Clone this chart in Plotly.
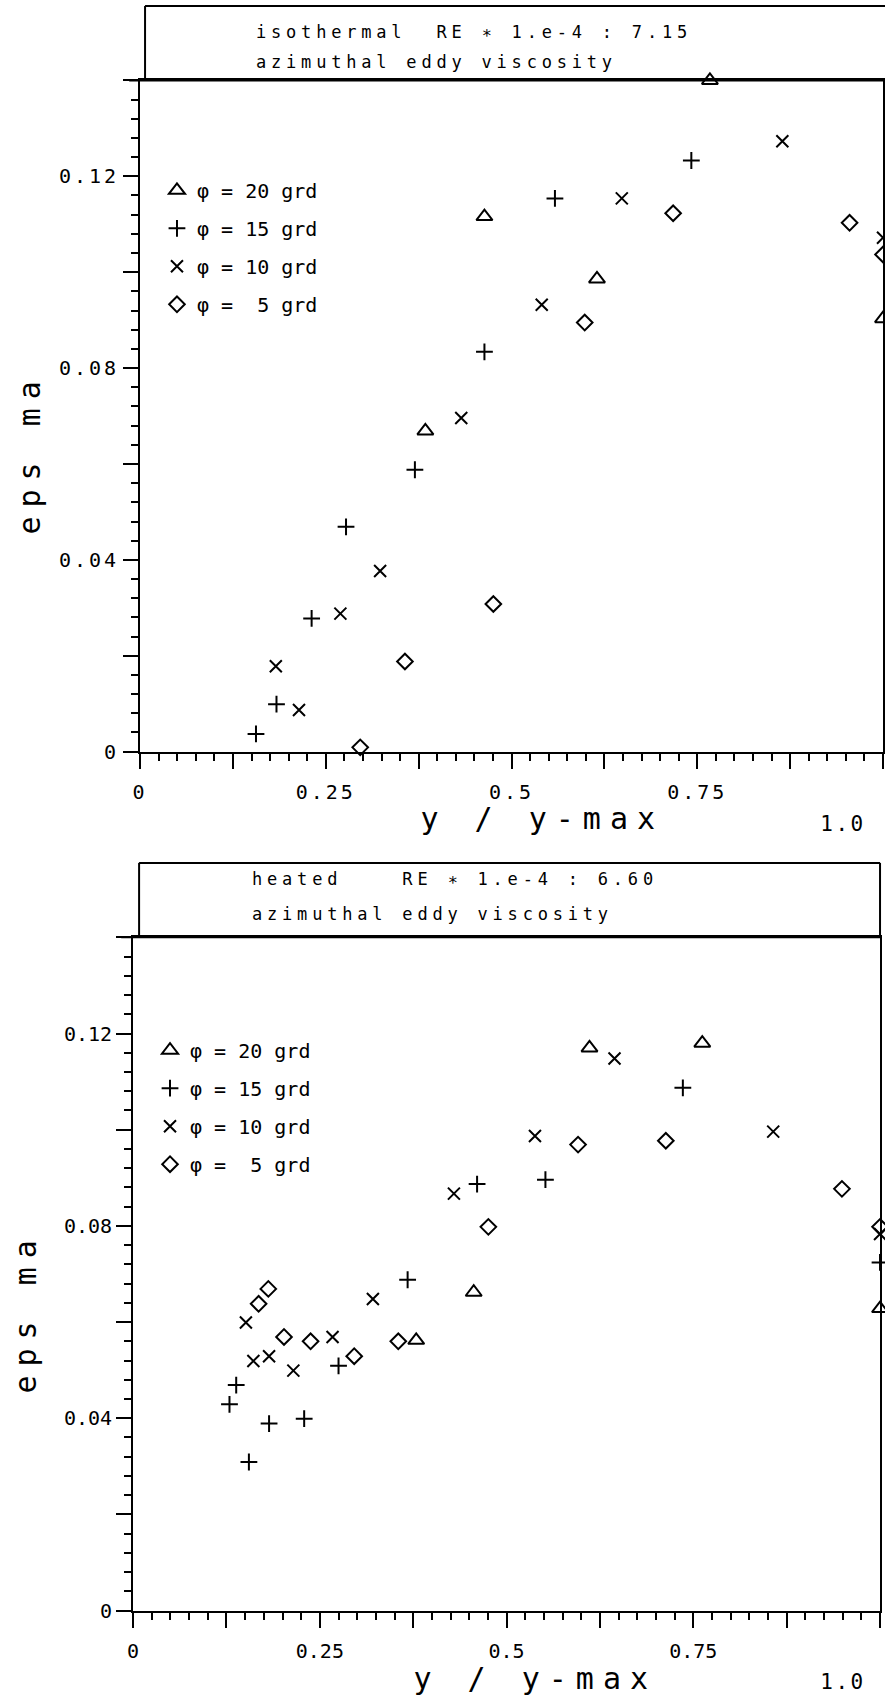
import plotly.graph_objects as go

# ---- isothermal run, RE * 1.e-4 = 7.15 -------------------------------
iso_x20 = [0.384, 0.4635, 0.615, 0.767, 1.0]
iso_y20 = [0.0669, 0.1116, 0.0986, 0.140, 0.0903]
iso_x15 = [0.156, 0.1836, 0.2309, 0.2772, 0.3699, 0.4635, 0.5584, 0.742]
iso_y15 = [0.0037, 0.0099, 0.0278, 0.0469, 0.0588, 0.0834, 0.1154, 0.1233]
iso_x10 = [0.1827, 0.2139, 0.2696, 0.3231, 0.4323, 0.5406, 0.6484, 0.8645, 1.0]
iso_y10 = [0.0178, 0.0087, 0.0288, 0.0377, 0.0696, 0.0932, 0.1154, 0.1273, 0.1072]
iso_x5 = [0.2963, 0.3565, 0.4755, 0.5985, 0.7175, 0.955, 1.0]
iso_y5 = [0.0009, 0.0188, 0.0308, 0.0895, 0.1123, 0.1103, 0.1037]

# ---- heated run, RE * 1.e-4 = 6.60 -----------------------------------
hot_x20 = [0.379, 0.456, 0.611, 0.762, 1.0]
hot_y20 = [0.0562, 0.0662, 0.117, 0.118, 0.0628]
hot_x15 = [0.129, 0.138, 0.155, 0.182, 0.229, 0.275, 0.3675, 0.4605, 0.552, 0.736, 1.0]
hot_y15 = [0.0429, 0.0469, 0.0309, 0.0389, 0.0399, 0.0509, 0.0688, 0.0887, 0.0896, 0.1087, 0.0724]
hot_x10 = [0.151, 0.161, 0.182, 0.2145, 0.267, 0.321, 0.4295, 0.538, 0.6445, 0.857, 1.0]
hot_y10 = [0.0599, 0.0519, 0.0529, 0.0499, 0.0569, 0.0648, 0.0867, 0.0987, 0.1148, 0.0996, 0.0783]
hot_x5 = [0.168, 0.181, 0.202, 0.2376, 0.296, 0.355, 0.4756, 0.5957, 0.7132, 0.949, 1.0]
hot_y5 = [0.0638, 0.0669, 0.0569, 0.056, 0.0529, 0.056, 0.0798, 0.0969, 0.0977, 0.0877, 0.0798]

series_names = ["φ = 20 grd", "φ = 15 grd", "φ = 10 grd", "φ =  5 grd"]
x_tick_vals = [0, 0.125, 0.25, 0.375, 0.5, 0.625, 0.75, 0.875, 1.0]
x_tick_text = ["0", "", "0.25", "", "0.5", "", "0.75", "", ""]
y_tick_vals = [0, 0.02, 0.04, 0.06, 0.08, 0.10, 0.12, 0.14]
y_tick_text = ["0", "", "0.04", "", "0.08", "", "0.12", ""]

W, H = 885, 1705
FONT = "DejaVu Sans Mono"
INK = "black"

# text sizes (annotation sizes also key their letter spacing below)
TICK_SIZE = 20
LEGEND_SIZE = 20
HEAD_SIZE = 17
TITLE_SIZE = 30
END_SIZE = 21

symbols = [
    dict(symbol="triangle-up-open", size=14),
    dict(symbol="cross-thin-open", size=12),
    dict(symbol="x-thin-open", size=12),
    dict(symbol="diamond-open", size=12),
]

fig = go.Figure()


def add_panel(xs, ys, xa, ya, legend_name, tag):
    for i, (x, y) in enumerate(zip(xs, ys)):
        m = symbols[i]
        fig.add_trace(go.Scatter(
            x=x, y=y, mode="markers", name=series_names[i],
            xaxis=xa, yaxis=ya, legend=legend_name,
            legendgroup=f"{tag}{i}", cliponaxis=False,
            marker=dict(symbol=m["symbol"], size=m["size"], color=INK,
                        line=dict(color=INK, width=2)),
        ))


add_panel([iso_x20, iso_x15, iso_x10, iso_x5], [iso_y20, iso_y15, iso_y10, iso_y5],
          "x", "y", "legend", "iso")
add_panel([hot_x20, hot_x15, hot_x10, hot_x5], [hot_y20, hot_y15, hot_y10, hot_y5],
          "x2", "y2", "legend2", "hot")


def px_x(p):
    return p / W


def px_y(p):
    return 1 - p / H


def xaxis_cfg(dom, anchor):
    return dict(
        domain=dom, anchor=anchor, range=[0, 1.0],
        showline=True, linecolor=INK, linewidth=2, mirror=True,
        showgrid=False, zeroline=False,
        tickmode="array", tickvals=x_tick_vals, ticktext=x_tick_text,
        ticks="outside", ticklen=15, tickwidth=2, tickcolor=INK,
        ticklabelstandoff=6,
        tickfont=dict(family=FONT, size=TICK_SIZE, color=INK),
        minor=dict(ticks="outside", ticklen=7, tickwidth=2, tickcolor=INK,
                   tick0=0, dtick=0.025, showgrid=False),
    )


def yaxis_cfg(dom, anchor):
    return dict(
        domain=dom, anchor=anchor, range=[0, 0.14],
        showline=True, linecolor=INK, linewidth=2, mirror=True,
        showgrid=False, zeroline=False,
        tickmode="array", tickvals=y_tick_vals, ticktext=y_tick_text,
        ticks="outside", ticklen=15, tickwidth=2, tickcolor=INK,
        tickfont=dict(family=FONT, size=TICK_SIZE, color=INK),
        minor=dict(ticks="outside", ticklen=7, tickwidth=2, tickcolor=INK,
                   tick0=0, dtick=0.004, showgrid=False),
    )


# plot frames (pixel positions on the page)
top_l, top_r, top_t, top_b = 135, 883, 81, 757
bot_l, bot_r, bot_t, bot_b = 128, 880, 944, 1622

legend_cfg = dict(
    xanchor="left", yanchor="top", bgcolor="rgba(0,0,0,0)", borderwidth=0,
    font=dict(family=FONT, size=LEGEND_SIZE, color=INK), tracegroupgap=9,
    itemclick=False, itemdoubleclick=False,
)

fig.update_layout(
    width=W, height=H, autosize=False,
    margin=dict(l=0, r=0, t=0, b=0, pad=0),
    paper_bgcolor="white", plot_bgcolor="white",
    showlegend=True,
    xaxis=xaxis_cfg([px_x(top_l), px_x(top_r)], "y"),
    yaxis=yaxis_cfg([px_y(top_b), px_y(top_t)], "x"),
    xaxis2=xaxis_cfg([px_x(bot_l), px_x(bot_r)], "y2"),
    yaxis2=yaxis_cfg([px_y(bot_b), px_y(bot_t)], "x2"),
    legend=dict(legend_cfg, x=px_x(152), y=px_y(172)),
    legend2=dict(legend_cfg, x=px_x(145), y=px_y(1038)),
)

# header boxes above each panel
line = dict(color=INK, width=2)
header_lines = [
    # isothermal header
    (140, 6, 885, 6), (140, 6, 140, top_t), (124, top_t, 885, top_t),
    # heated header
    (134, 869, 880, 869), (134, 869, 134, bot_t), (880, 869, 880, bot_t),
    (116, bot_t, 880, bot_t),
]
for x0, y0, x1, y1 in header_lines:
    fig.add_shape(type="line", xref="paper", yref="paper",
                  x0=px_x(x0), y0=px_y(y0), x1=px_x(x1), y1=px_y(y1), line=line)


def note(text, x, y, size, anchor="left", angle=0):
    fig.add_annotation(text=text, xref="paper", yref="paper",
                       x=px_x(x), y=px_y(y), xanchor=anchor, yanchor="middle",
                       align="left" if anchor == "left" else "center",
                       textangle=angle, showarrow=False,
                       font=dict(family=FONT, size=size, color=INK))


# header texts
note("isothermal  RE ∗ 1.e-4 : 7.15", 250, 32, HEAD_SIZE)
note("azimuthal eddy viscosity", 250, 62, HEAD_SIZE)
note("heated    RE ∗ 1.e-4 : 6.60", 246, 885, HEAD_SIZE)
note("azimuthal eddy viscosity", 246, 920, HEAD_SIZE)
# y-axis titles
note("eps ma", 24, 457, TITLE_SIZE, anchor="center", angle=-90)
note("eps ma", 20, 1322, TITLE_SIZE, anchor="center", angle=-90)
# x-axis titles
note("y / y-max", 540, 824, TITLE_SIZE, anchor="center")
note("y / y-max", 533, 1690, TITLE_SIZE, anchor="center")
# end-of-axis value
note("1.0", 843, 830, END_SIZE, anchor="center")
note("1.0", 843, 1694, END_SIZE, anchor="center")

# plotter-style wide letter spacing for tick labels and annotation texts
css = (
    ".xtick text, .ytick text {letter-spacing: 3px;} "
    f"text.annotation-text[style*='font-size: {HEAD_SIZE}px'] {{letter-spacing: 4.8px;}} "
    f"text.annotation-text[style*='font-size: {TITLE_SIZE}px'] {{letter-spacing: 9px;}} "
    f"text.annotation-text[style*='font-size: {END_SIZE}px'] {{letter-spacing: 2.5px;}}"
)
post = (
    "var s=document.createElement('style');s.textContent=\"" + css + "\";"
    "document.head.appendChild(s);"
)

fig.write_html("out.html", post_script=post)
